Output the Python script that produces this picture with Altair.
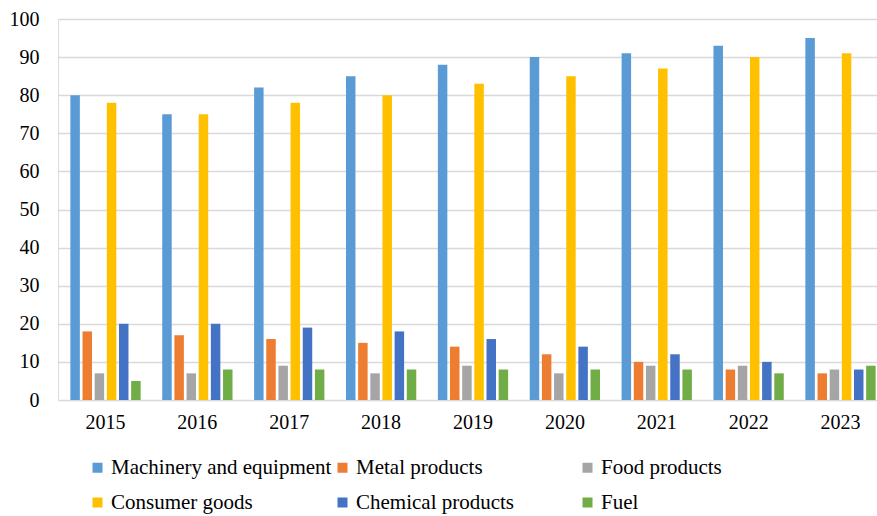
import altair as alt
import pandas as pd

years = ["2015", "2016", "2017", "2018", "2019", "2020", "2021", "2022", "2023"]
series = ["Machinery and equipment", "Metal products", "Food products",
          "Consumer goods", "Chemical products", "Fuel"]
machinery = [80, 75, 82, 85, 88, 90, 91, 93, 95]
metal = [18, 17, 16, 15, 14, 12, 10, 8, 7]
food = [7, 7, 9, 7, 9, 7, 9, 9, 8]
consumer = [78, 75, 78, 80, 83, 85, 87, 90, 91]
chemical = [20, 20, 19, 18, 16, 14, 12, 10, 8]
fuel = [5, 8, 8, 8, 8, 8, 8, 7, 9]
colors = ["#5B9BD5", "#ED7D31", "#A5A5A5", "#FFC000", "#4472C4", "#70AD47"]

values = [machinery, metal, food, consumer, chemical, fuel]
rows = []
for s, vals in zip(series, values):
    for y, v in zip(years, vals):
        rows.append({"Year": y, "Category": s, "Value": v})
df = pd.DataFrame(rows)

FONT = "Liberation Serif, Times New Roman, serif"

chart = alt.Chart(df).mark_bar().encode(
    x=alt.X("Year:N", sort=years, title=None,
            scale=alt.Scale(range=[0, 830], paddingInner=0.206, paddingOuter=0.12),
            axis=alt.Axis(labelAngle=0, ticks=False, domain=False, grid=False,
                          labelFont=FONT, labelFontSize=20, labelColor="#000000",
                          labelPadding=12)),
    xOffset=alt.XOffset("Category:N", sort=series,
                        scale=alt.Scale(paddingInner=0.22, paddingOuter=0.11)),
    y=alt.Y("Value:Q", title=None,
            scale=alt.Scale(domain=[0, 100], nice=False),
            axis=alt.Axis(values=list(range(0, 101, 10)), ticks=False, domain=False,
                          grid=True, gridColor="#D9D9D9", gridWidth=1.3,
                          labelFont=FONT, labelFontSize=20, labelColor="#000000",
                          labelPadding=19)),
    color=alt.Color("Category:N", sort=series,
                    scale=alt.Scale(domain=series, range=colors),
                    legend=alt.Legend(orient="none", legendX=29, legendY=438,
                                      direction="horizontal", columns=3,
                                      gridAlign="all", columnPadding=0, rowPadding=13,
                                      title=None, symbolType="square", symbolSize=100,
                                      symbolStrokeWidth=0, labelOffset=3,
                                      labelFont=FONT, labelFontSize=21,
                                      labelColor="#000000", labelLimit=400,
                                      padding=0)),
).properties(
    width=819,
    height=381,
    autosize=alt.AutoSizeParams(type="none"),
    padding={"left": 58, "top": 19, "right": 0, "bottom": 116},
).configure_view(stroke=None).configure(background="white")

chart.save("out.html", embed_options={"renderer": "svg", "actions": False})
